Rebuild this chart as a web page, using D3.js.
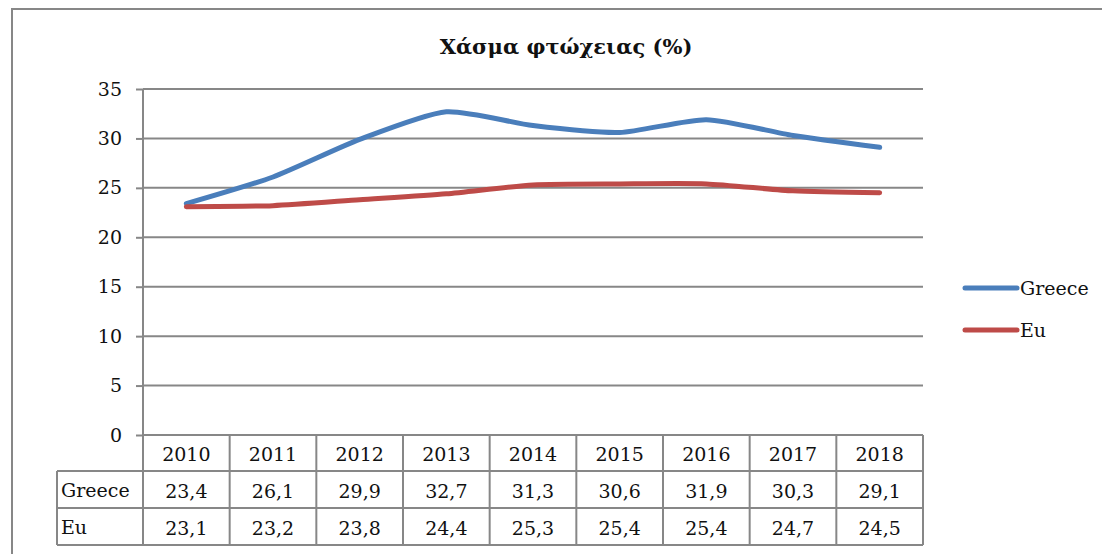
<!DOCTYPE html>
<html>
<head>
<meta charset="utf-8">
<script src="https://cdn.jsdelivr.net/npm/d3@7"></script>
<style>
  body { margin: 0; background: #fff; }
  text { font-family: "DejaVu Serif", "Liberation Serif", serif; fill: #111; }
</style>
</head>
<body>
<div id="chart"></div>
<script>
// data
var years = ["2010", "2011", "2012", "2013", "2014", "2015", "2016", "2017", "2018"];
var greece = [23.4, 26.1, 29.9, 32.7, 31.3, 30.6, 31.9, 30.3, 29.1];
var eu = [23.1, 23.2, 23.8, 24.4, 25.3, 25.4, 25.4, 24.7, 24.5];
var yTicks = [0, 5, 10, 15, 20, 25, 30, 35];
var seriesNames = ["Greece", "Eu"];
var seriesColors = ["#4a7ebb", "#be4b48"];

var W = 1102, H = 554;
var plot = {left: 143, right: 923, top: 89, bottom: 435};
var gridCol = "#878787";
var fs = "19px";

var svg = d3.select("#chart").append("svg")
    .attr("width", W).attr("height", H);

// outer frame
svg.append("rect")
    .attr("x", 12).attr("y", 9)
    .attr("width", W).attr("height", H)
    .attr("fill", "none").attr("stroke", gridCol).attr("stroke-width", 2);

// title
svg.append("text")
    .attr("x", 566).attr("y", 54)
    .attr("text-anchor", "middle")
    .style("font-size", "21px").style("font-weight", "bold")
    .text("Χάσμα φτώχειας (%)");

var x = d3.scaleBand().domain(years).range([plot.left, plot.right]);
var y = d3.scaleLinear().domain([0, 35]).range([plot.bottom, plot.top]);

// gridlines + y axis
var yAxis = svg.append("g")
    .attr("transform", "translate(" + plot.left + ",0)")
    .call(d3.axisLeft(y).tickValues(yTicks).tickSize(7).tickPadding(14)
      .tickFormat(d3.format("d")));
yAxis.select(".domain").remove();
yAxis.selectAll(".tick line").attr("stroke", gridCol).attr("stroke-width", 2);
yAxis.selectAll(".tick text").style("font-size", fs).attr("fill", "#111")
    .style("font-family", "DejaVu Serif, serif");

svg.append("g").selectAll("line")
  .data(yTicks)
  .enter().append("line")
    .attr("x1", plot.left).attr("x2", plot.right)
    .attr("y1", function(d) { return y(d); })
    .attr("y2", function(d) { return y(d); })
    .attr("stroke", gridCol).attr("stroke-width", 2);

svg.append("line")
    .attr("x1", plot.left).attr("x2", plot.left)
    .attr("y1", plot.top).attr("y2", 545)
    .attr("stroke", gridCol).attr("stroke-width", 2);

// data table under the plot
var rowY = [435, 471, 508, 545];
var tableLeft = 57;
var tbl = svg.append("g");

// vertical separators
tbl.selectAll(".vsep")
  .data(years)
  .enter().append("line")
    .attr("x1", function(d) { return x(d) + x.bandwidth(); })
    .attr("x2", function(d) { return x(d) + x.bandwidth(); })
    .attr("y1", rowY[0]).attr("y2", rowY[3])
    .attr("stroke", gridCol).attr("stroke-width", 2);

tbl.append("line")
    .attr("x1", tableLeft).attr("x2", tableLeft)
    .attr("y1", rowY[1]).attr("y2", rowY[3])
    .attr("stroke", gridCol).attr("stroke-width", 2);

// horizontal separators
tbl.selectAll(".hsep")
  .data(rowY.slice(1))
  .enter().append("line")
    .attr("x1", tableLeft).attr("x2", plot.right)
    .attr("y1", function(d) { return d; })
    .attr("y2", function(d) { return d; })
    .attr("stroke", gridCol).attr("stroke-width", 2);

// header years
tbl.selectAll(".yr")
  .data(years)
  .enter().append("text")
    .attr("x", function(d) { return x(d) + x.bandwidth() / 2; })
    .attr("y", rowY[0] + 26)
    .attr("text-anchor", "middle")
    .style("font-size", fs)
    .text(function(d) { return d; });

var fmt = function(v) { return d3.format(".1f")(v).replace(".", ","); };
[greece, eu].forEach(function(vals, r) {
  tbl.append("text")
      .attr("x", tableLeft + 4).attr("y", rowY[r + 1] + 26)
      .style("font-size", fs)
      .text(seriesNames[r]);
  tbl.selectAll(".v" + r)
    .data(vals)
    .enter().append("text")
      .attr("x", function(d, i) { return x(years[i]) + x.bandwidth() / 2; })
      .attr("y", rowY[r + 1] + 27)
      .attr("text-anchor", "middle")
      .style("font-size", fs)
      .text(fmt);
});

// lines
var line = d3.line()
    .x(function(d, i) { return x(years[i]) + x.bandwidth() / 2; })
    .y(function(d) { return y(d); })
    .curve(d3.curveCardinal.tension(0.35));

[greece, eu].forEach(function(vals, r) {
  svg.append("path")
      .datum(vals)
      .attr("d", line)
      .attr("fill", "none")
      .attr("stroke", seriesColors[r])
      .attr("stroke-width", 5)
      .attr("stroke-linecap", "round")
      .attr("stroke-linejoin", "round");
});

// legend
var leg = svg.append("g");
seriesNames.forEach(function(name, i) {
  var ly = 288 + i * 42;
  leg.append("line")
      .attr("x1", 965).attr("x2", 1017)
      .attr("y1", ly).attr("y2", ly)
      .attr("stroke", seriesColors[i]).attr("stroke-width", 5)
      .attr("stroke-linecap", "round");
  leg.append("text")
      .attr("x", 1020).attr("y", ly + 7)
      .style("font-size", fs)
      .text(name);
});
</script>
</body>
</html>
